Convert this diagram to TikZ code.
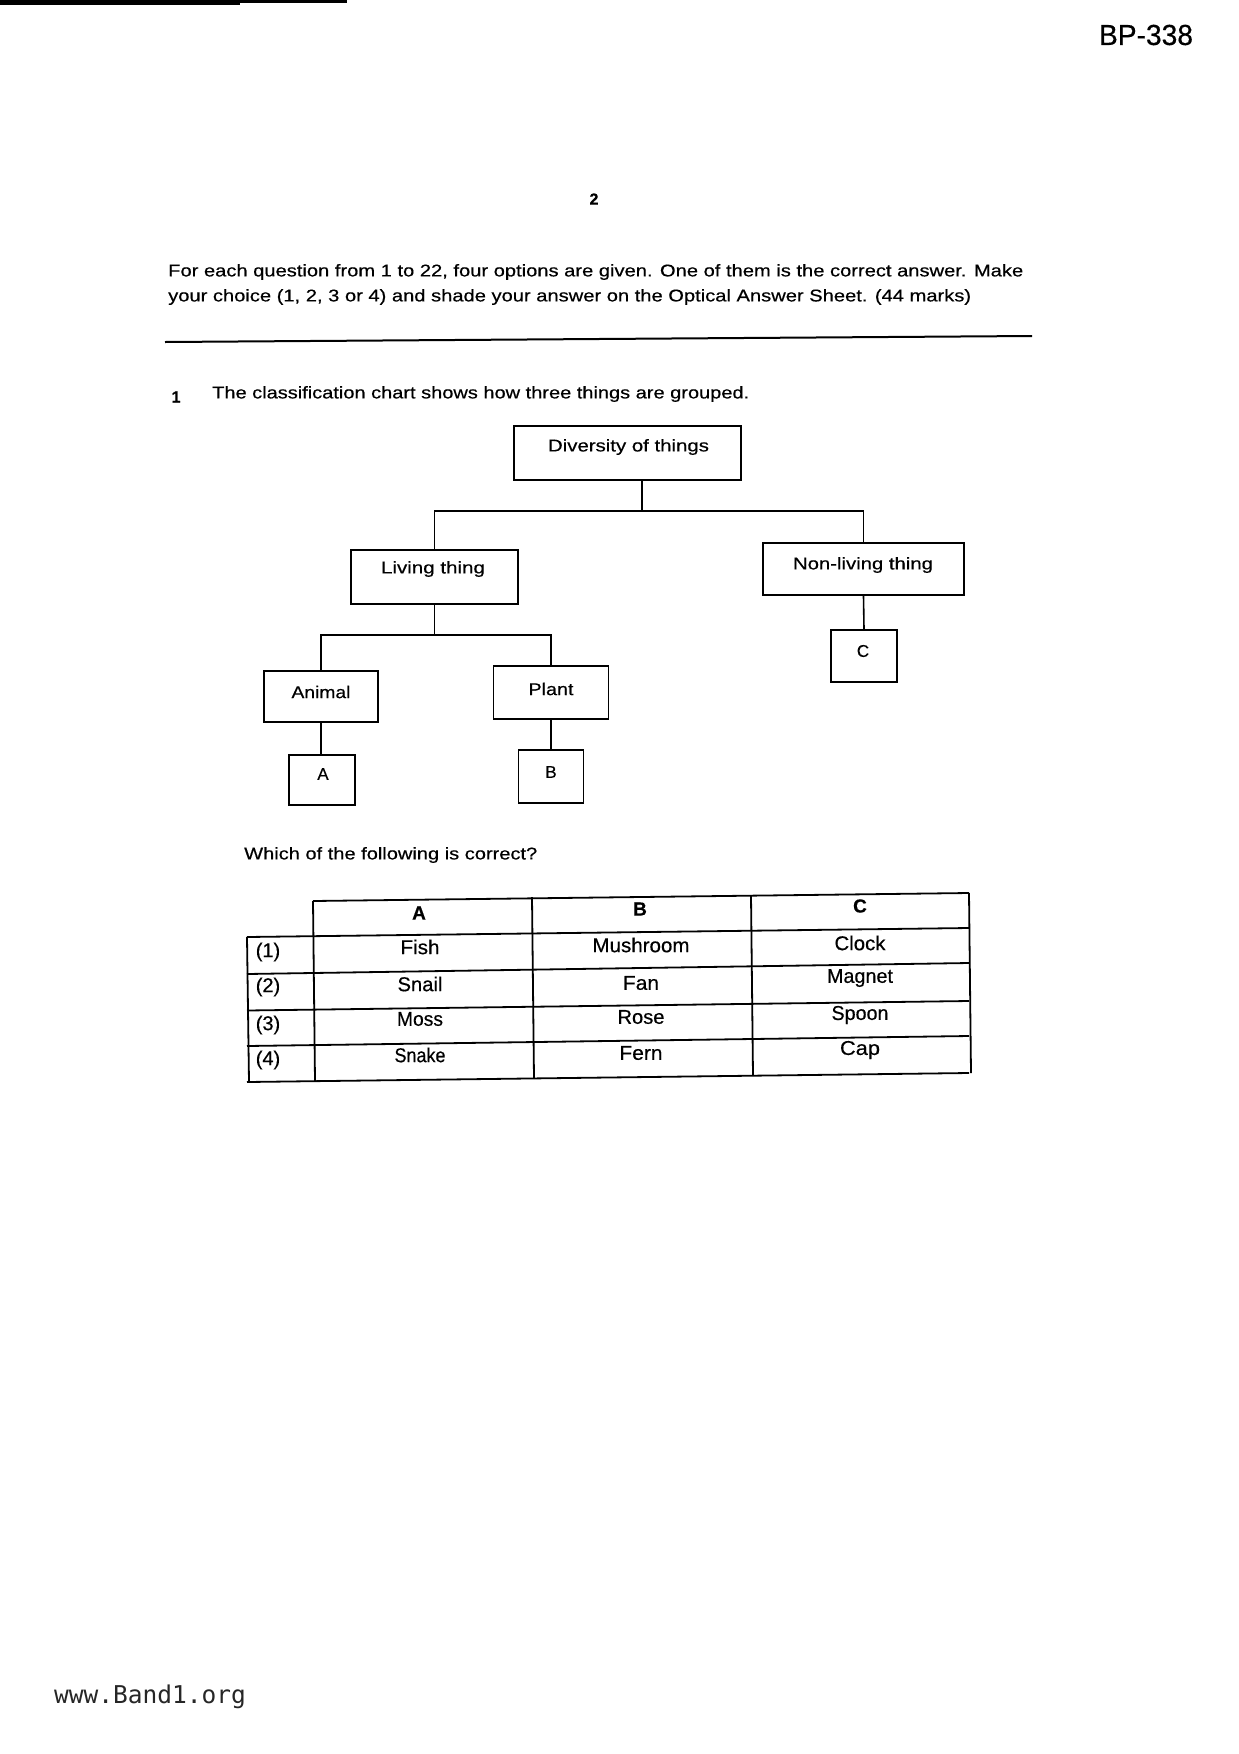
\documentclass[tikz,border=0pt]{standalone}
\usepackage{fontspec}
\setmainfont{Liberation Sans}[FakeBold=0.4]
\newfontfamily\monof{DejaVu Sans Mono}
\usepackage{graphicx}
\newcommand\fw[2]{\resizebox{#1pt}{\height}{#2}}
\begin{document}
\begin{tikzpicture}[x=1pt,y=-1pt,
  box/.style={draw, line width=1.6pt, inner sep=0pt, anchor=center},
  lbl/.style={inner sep=0pt, font=\fontsize{17}{20}\selectfont},
  para/.style={inner sep=0pt, anchor=west, font=\fontsize{17}{20}\selectfont},
  cell/.style={inner sep=0pt, anchor=center, font=\fontsize{20}{23}\selectfont},
  head/.style={inner sep=0pt, anchor=center, font=\bfseries\fontsize{19}{22}\selectfont},
  conn/.style={line width=1.6pt},
  grid/.style={line width=1.8pt}]
\useasboundingbox[fill=white] (0,0) rectangle (1239,1754);
% top rule
\fill (0,0) rectangle (240,5);
\fill (240,0) rectangle (347,2.5);
% header texts
\node[inner sep=0pt, font=\fontsize{29}{32}\selectfont] (code) at (1146,35) {\fw{94}{BP-338}};
\node[inner sep=0pt, font=\bfseries\fontsize{16}{19}\selectfont] (pg) at (594,199) {2};
\node[para] (p1) at (168,272) {\fw{855}{For each question from 1 to 22, four options are given. One of them is the correct answer. Make}};
\node[para] (p2) at (168,297) {\fw{803}{your choice (1, 2, 3 or 4) and shade your answer on the Optical Answer Sheet. (44 marks)}};
\draw[line width=2pt] (165,342) -- (1032,336);
% question
\node[inner sep=0pt, font=\bfseries\fontsize{16}{19}\selectfont] (qn) at (176,397) {1};
\node[para] (q1) at (212,394) {\fw{537}{The classification chart shows how three things are grouped.}};
% chart
\node[box, minimum width=227pt, minimum height=54pt] (div) at (627.5,453) {};
\node[lbl] at (628.5,447) {\fw{161}{Diversity of things}};
\node[box, minimum width=167pt, minimum height=54pt] (liv) at (434.5,577) {};
\node[lbl] at (433,569) {\fw{104}{Living thing}};
\node[box, minimum width=201pt, minimum height=52pt] (non) at (863.5,569) {};
\node[lbl] at (863,565) {\fw{140}{Non-living thing}};
\node[box, minimum width=66pt, minimum height=52pt] (C) at (864,656) {};
\node[lbl] at (863,651) {C};
\node[box, minimum width=114pt, minimum height=51pt] (ani) at (321,696.5) {};
\node[lbl] at (321,692) {\fw{59}{Animal}};
\node[box, minimum width=115pt, minimum height=53pt] (pla) at (551,692.5) {};
\node[lbl] at (551,689) {\fw{45}{Plant}};
\node[box, minimum width=66pt, minimum height=50pt] (A) at (322,780) {};
\node[lbl] at (323,774) {A};
\node[box, minimum width=65pt, minimum height=53pt] (B) at (551,776.5) {};
\node[lbl] at (551,772) {B};
\coordinate (j1) at (642,511);
\coordinate (j2) at (434.5,635);
\draw[conn] (div.south -| j1) -- (j1);
\draw[conn] (liv.north) |- (j1) -| (non.north);
\draw[conn] (liv.south) -- (j2);
\draw[conn] (ani.north) |- (j2) -| (pla.north);
\draw[conn] (ani.south) -- (A.north -| ani.south);
\draw[conn] (pla.south) -- (B.north);
\draw[conn] (non.south) -- (C.north);
% table (scanned slightly askew)
\node[para] (q2) at (244,855) {\fw{293}{Which of the following is correct?}};
\draw[grid] (313,901) -- (969,893);
\draw[grid] (247,937) -- (969,928);
\draw[grid] (247,974) -- (969,963);
\draw[grid] (247,1010.5) -- (969,1001);
\draw[grid] (247,1046) -- (969,1036);
\draw[grid] (247,1082) -- (969,1073);
\draw[grid] (247,937) -- (249,1082);
\draw[grid] (313,901) -- (315,1081);
\draw[grid] (532,897) -- (534,1078.5);
\draw[grid] (751,895.5) -- (753,1075.5);
\draw[grid] (969,893) -- (971,1073);
\node[head] at (419,913) {A};
\node[head] at (640,909) {B};
\node[head] at (860,906) {C};
\node[cell] at (268,952) {(1)};
\node[cell] at (420,947) {\fw{39}{Fish}};
\node[cell] at (641,945) {\fw{97}{Mushroom}};
\node[cell] at (860,943) {\fw{51}{Clock}};
\node[cell] at (268,987) {(2)};
\node[cell] at (420,984) {\fw{45}{Snail}};
\node[cell] at (641,983) {\fw{36}{Fan}};
\node[cell] at (860,978) {\fw{66}{Magnet}};
\node[cell] at (268,1025) {(3)};
\node[cell] at (420,1019) {\fw{46}{Moss}};
\node[cell] at (641,1017) {\fw{47}{Rose}};
\node[cell] at (860,1015) {\fw{57}{Spoon}};
\node[cell] at (268,1060) {(4)};
\node[cell] at (420,1055) {\fw{51}{Snake}};
\node[cell] at (641,1053) {\fw{43}{Fern}};
\node[cell] at (860,1050) {\fw{40}{Cap}};
% footer
\node[inner sep=0pt, anchor=west, font=\monof\fontsize{24.5}{28}\selectfont, text=black!85] (ft) at (54,1697) {www.Band1.org};
\end{tikzpicture}
\end{document}
